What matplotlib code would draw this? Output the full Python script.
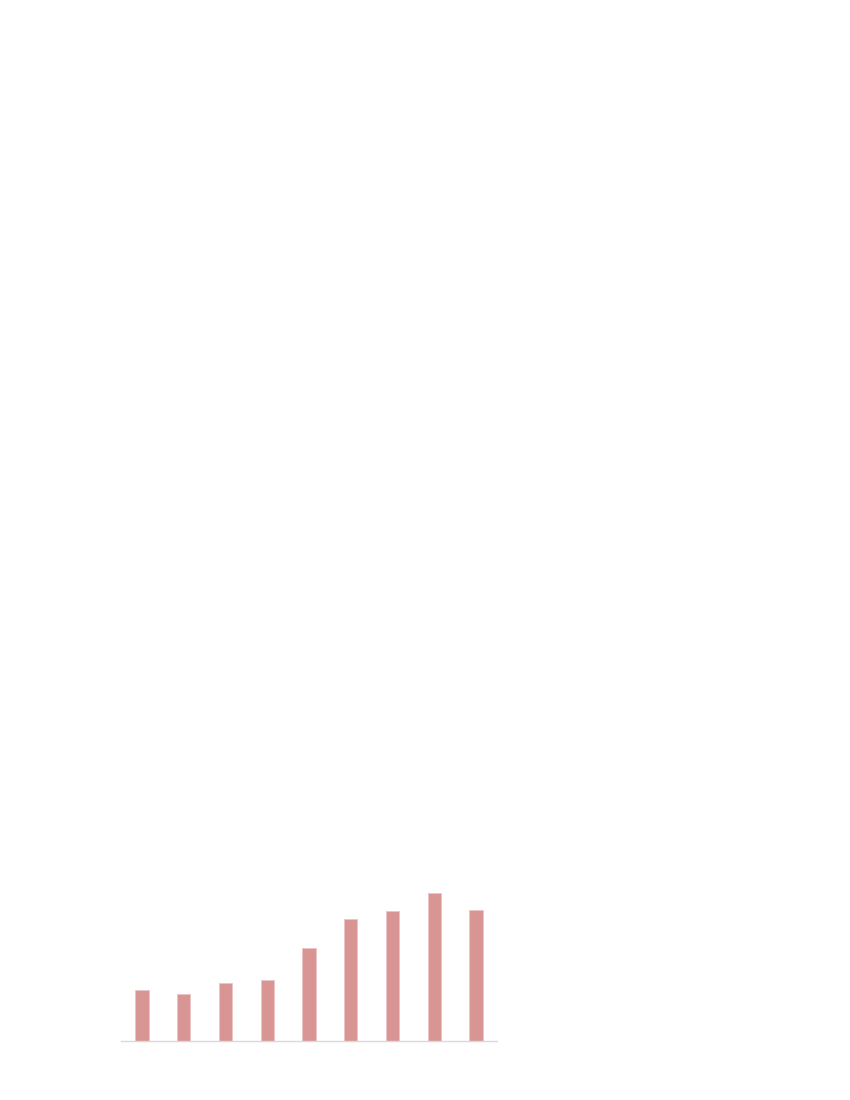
import matplotlib
matplotlib.use("Agg")
import matplotlib.pyplot as plt

# Values (no axis labels shown, units arbitrary)
categories = list(range(9))
values = [51, 47, 58, 61, 93, 122, 130, 148, 131]

BAR_COLOR = "#D99594"
AXIS_COLOR = "#D9D9D9"

fig = plt.figure(figsize=(8.5, 11), dpi=100)
# axes placed in the lower-left area, as in the reference
ax = fig.add_axes([121 / 850, 59 / 1100, 376 / 850, 160 / 1100])

ax.bar(categories, values, width=0.32, color=BAR_COLOR,
       edgecolor="#EBC4C3", linewidth=0.6)

ax.set_xlim(-0.5, 8.5)
ax.set_ylim(0, 160)
for side in ("top", "right", "left"):
    ax.spines[side].set_visible(False)
ax.spines["bottom"].set_color(AXIS_COLOR)
ax.spines["bottom"].set_linewidth(1.0)
ax.set_xticks([])
ax.set_yticks([])
ax.patch.set_alpha(0)

fig.savefig("out.png", dpi=100)
